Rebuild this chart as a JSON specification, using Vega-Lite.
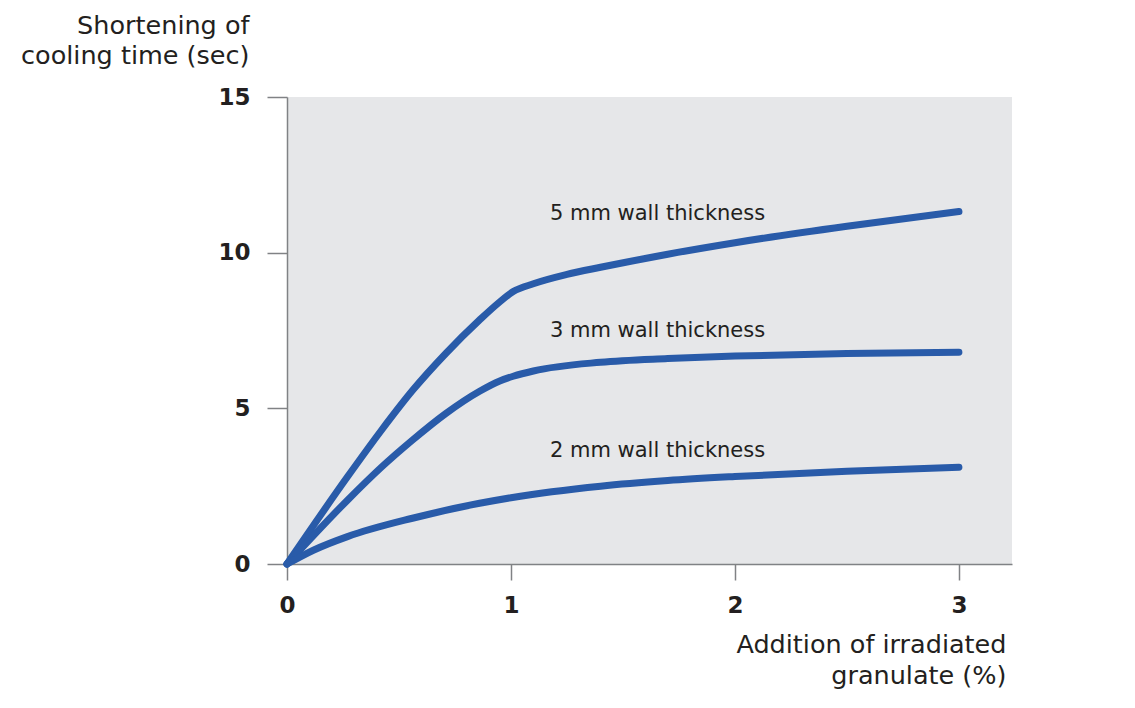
{
  "$schema": "https://vega.github.io/schema/vega-lite/v6.json",
  "width": 725,
  "height": 467,
  "autosize": {"type": "none"},
  "padding": {"left": 287, "top": 97, "right": 123, "bottom": 144},
  "background": "white",
  "config": {
    "view": {"fill": "#e6e7e9", "stroke": null},
    "font": "DejaVu Sans"
  },
  "datasets": {
    "curves": [
      {"series": "5 mm", "x": 0, "y": 0},
      {"series": "5 mm", "x": 0.27, "y": 2.8},
      {"series": "5 mm", "x": 0.42, "y": 4.28},
      {"series": "5 mm", "x": 0.56, "y": 5.57},
      {"series": "5 mm", "x": 0.71, "y": 6.77},
      {"series": "5 mm", "x": 0.86, "y": 7.84},
      {"series": "5 mm", "x": 0.95, "y": 8.42},
      {"series": "5 mm", "x": 1.01, "y": 8.75},
      {"series": "5 mm", "x": 1.1, "y": 9.0},
      {"series": "5 mm", "x": 1.25, "y": 9.3},
      {"series": "5 mm", "x": 1.4, "y": 9.53},
      {"series": "5 mm", "x": 1.7, "y": 9.95},
      {"series": "5 mm", "x": 2.0, "y": 10.32},
      {"series": "5 mm", "x": 2.5, "y": 10.85},
      {"series": "5 mm", "x": 3.0, "y": 11.32},
      {"series": "3 mm", "x": 0, "y": 0},
      {"series": "3 mm", "x": 0.27, "y": 2.05},
      {"series": "3 mm", "x": 0.42, "y": 3.1},
      {"series": "3 mm", "x": 0.56, "y": 3.98},
      {"series": "3 mm", "x": 0.71, "y": 4.84},
      {"series": "3 mm", "x": 0.86, "y": 5.55},
      {"series": "3 mm", "x": 0.95, "y": 5.88},
      {"series": "3 mm", "x": 1.01, "y": 6.03},
      {"series": "3 mm", "x": 1.1, "y": 6.2},
      {"series": "3 mm", "x": 1.4, "y": 6.48},
      {"series": "3 mm", "x": 1.7, "y": 6.6},
      {"series": "3 mm", "x": 2.0, "y": 6.68},
      {"series": "3 mm", "x": 2.5, "y": 6.76},
      {"series": "3 mm", "x": 3.0, "y": 6.8},
      {"series": "2 mm", "x": 0, "y": 0},
      {"series": "2 mm", "x": 0.12, "y": 0.45},
      {"series": "2 mm", "x": 0.27, "y": 0.88},
      {"series": "2 mm", "x": 0.56, "y": 1.47},
      {"series": "2 mm", "x": 0.86, "y": 1.95},
      {"series": "2 mm", "x": 1.0, "y": 2.13},
      {"series": "2 mm", "x": 1.4, "y": 2.5},
      {"series": "2 mm", "x": 1.7, "y": 2.68},
      {"series": "2 mm", "x": 2.0, "y": 2.81},
      {"series": "2 mm", "x": 2.5, "y": 2.98},
      {"series": "2 mm", "x": 3.0, "y": 3.11}
    ],
    "labels": [
      {"x": 1.174, "y": 11.05, "text": "5 mm wall thickness"},
      {"x": 1.174, "y": 7.3, "text": "3 mm wall thickness"},
      {"x": 1.174, "y": 3.45, "text": "2 mm wall thickness"}
    ]
  },
  "encoding": {
    "x": {
      "field": "x",
      "type": "quantitative",
      "scale": {"domain": [0, 3.237], "nice": false, "zero": false},
      "axis": {
        "values": [0, 1, 2, 3],
        "format": "d",
        "grid": false,
        "labelFont": "DejaVu Sans",
        "labelFontWeight": "bold",
        "labelFontSize": 23,
        "labelColor": "#231f20",
        "labelPadding": 14,
        "tickSize": 16,
        "tickColor": "#808285",
        "tickWidth": 1.5,
        "domainColor": "#808285",
        "domainWidth": 1.5,
        "labelFlush": false,
        "title": ["Addition of irradiated", "granulate (%)"],
        "titleFont": "DejaVu Sans",
        "titleFontSize": 25.5,
        "titleFontWeight": "normal",
        "titleColor": "#231f20",
        "titleAlign": "right",
        "titleAnchor": "end",
        "titleBaseline": "alphabetic",
        "titleLineHeight": 31,
        "titleX": 719,
        "titleY": 88
      }
    },
    "y": {
      "field": "y",
      "type": "quantitative",
      "scale": {"domain": [0, 15], "nice": false},
      "axis": {
        "values": [0, 5, 10, 15],
        "format": "d",
        "grid": false,
        "labelFont": "DejaVu Sans",
        "labelFontWeight": "bold",
        "labelFontSize": 23,
        "labelColor": "#231f20",
        "labelPadding": 17,
        "tickSize": 20,
        "tickColor": "#808285",
        "tickWidth": 1.5,
        "domainColor": "#808285",
        "domainWidth": 1.5,
        "labelFlush": false,
        "title": ["Shortening of", "cooling time (sec)"],
        "titleFont": "DejaVu Sans",
        "titleFontSize": 25.5,
        "titleFontWeight": "normal",
        "titleColor": "#231f20",
        "titleAngle": 0,
        "titleAlign": "right",
        "titleBaseline": "alphabetic",
        "titleLineHeight": 30,
        "titleX": -38,
        "titleY": -64
      }
    }
  },
  "layer": [
    {
      "data": {"name": "curves"},
      "mark": {
        "type": "line",
        "interpolate": "monotone",
        "strokeWidth": 7,
        "strokeCap": "round",
        "strokeJoin": "round",
        "color": "#295ba9"
      },
      "encoding": {
        "detail": {"field": "series", "type": "nominal"}
      }
    },
    {
      "data": {"name": "labels"},
      "mark": {
        "type": "text",
        "align": "left",
        "baseline": "alphabetic",
        "font": "DejaVu Sans",
        "fontSize": 21,
        "color": "#231f20"
      },
      "encoding": {
        "text": {"field": "text", "type": "nominal"}
      }
    }
  ]
}
